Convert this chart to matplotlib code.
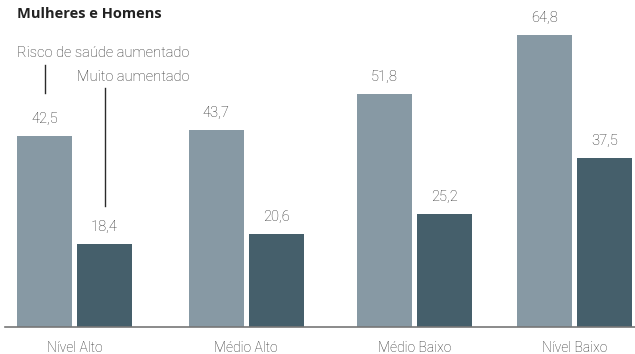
import matplotlib

matplotlib.use("Agg")
import matplotlib.pyplot as plt  # noqa: E402
import numpy as np  # noqa: E402

categories = ["Nível Alto", "Médio Alto", "Médio Baixo", "Nível Baixo"]
risco_aumentado = [42.5, 43.7, 51.8, 64.8]
muito_aumentado = [18.4, 20.6, 25.2, 37.5]
series_names = ["Risco de saúde aumentado", "Muito aumentado"]

LIGHT = "#8799a4"
DARK = "#455f6b"
TEXT = "#2b2b2b"

plt.rcParams["font.family"] = ["Roboto", "DejaVu Sans"]

fig = plt.figure(figsize=(6.35, 3.54), dpi=100)
ax = fig.add_axes([5 / 635, 27 / 354, 630 / 635, 327 / 354])

# groups are not evenly spaced in the layout
group_x = np.array([0.0, 1.03, 2.04, 3.0])
width = 0.33
offset = 0.18

ax.bar(group_x - offset, risco_aumentado, width, color=LIGHT)
ax.bar(group_x + offset, muito_aumentado, width, color=DARK)

label_kw = dict(ha="center", va="bottom", fontsize=10.5, color=TEXT, fontweight="light")
for x, v in zip(group_x - offset, risco_aumentado):
    ax.text(x, v + 2.2, f"{v:.1f}".replace(".", ","), **label_kw)
for x, v in zip(group_x + offset, muito_aumentado):
    ax.text(x, v + 2.2, f"{v:.1f}".replace(".", ","), **label_kw)

# series callouts over the first group
x0_light = group_x[0] - offset
x0_dark = group_x[0] + offset
ax.plot([x0_light, x0_light], [risco_aumentado[0] + 9.5, 58.2], color=TEXT, lw=1)
ax.plot([x0_dark, x0_dark], [muito_aumentado[0] + 8.5, 53.1], color=TEXT, lw=1)
ax.text(x0_light - width / 2, 60.9, series_names[0], ha="left", va="center",
        fontsize=10.5, color=TEXT, fontweight="light")
ax.text(x0_dark - width / 2, 55.6, series_names[1], ha="left", va="center",
        fontsize=10.5, color=TEXT, fontweight="light")

ax.set_xlim(-0.417, 3.363)
ax.set_ylim(0, 327 / 4.5)

ax.set_xticks(group_x)
ax.set_xticklabels(categories, fontsize=10, color=TEXT, fontweight="light")
ax.tick_params(axis="x", length=0, pad=10)
ax.set_yticks([])
for side in ("top", "left", "right"):
    ax.spines[side].set_visible(False)
ax.spines["bottom"].set_color("#777777")
ax.spines["bottom"].set_linewidth(1.2)

fig.text(17 / 635, 1 - 14 / 354, "Mulheres e Homens", ha="left", va="center",
         fontsize=10.5, fontweight="bold", color="#222222",
         family=["Open Sans", "DejaVu Sans"])

fig.savefig("out.png", dpi=100)
